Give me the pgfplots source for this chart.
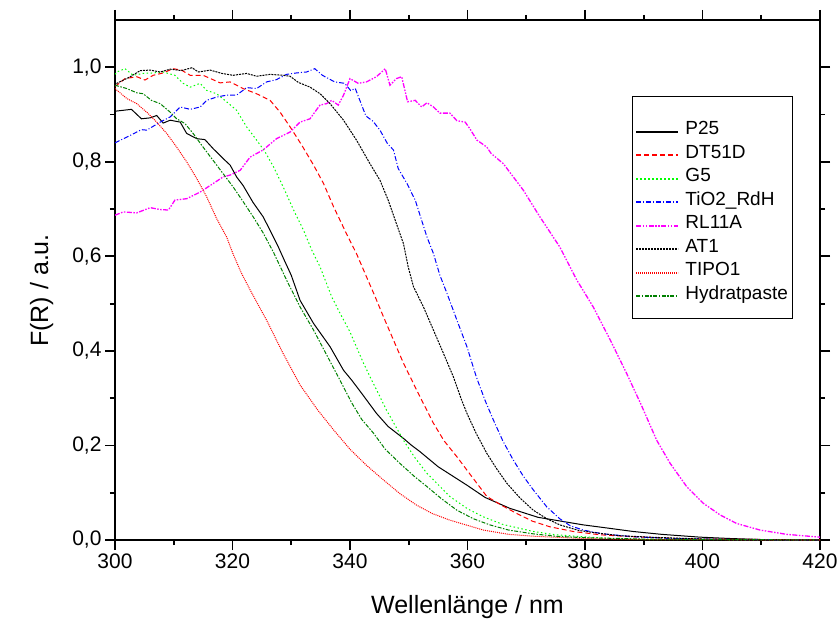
\documentclass[border=0pt]{standalone}
\usepackage{fontspec}
\setmainfont{Liberation Sans}
\usepackage{pgfplots}
\pgfplotsset{compat=1.18}
\definecolor{lime}{RGB}{0,255,0}
\definecolor{dkgreen}{RGB}{0,128,0}
\definecolor{mag}{RGB}{255,0,255}
\definecolor{rd}{RGB}{255,0,0}
\definecolor{bl}{RGB}{0,0,255}
\begin{document}
\begin{tikzpicture}
\begin{axis}[
  scale only axis, width=705bp, height=520bp,
  xmin=300, xmax=420, ymin=0, ymax=1.1,
  xtick={300,320,...,420}, ytick={0,0.2,...,1.0},
  minor x tick num=1, minor y tick num=1,
  tick align=outside,
  major tick length=10bp, minor tick length=5bp,
  axis line style={line width=1.8bp},
  every tick/.style={black, line width=1.8bp},
  /pgf/number format/assume math mode=true,
  /pgf/number format/use comma,
  yticklabel style={/pgf/number format/fixed, /pgf/number format/precision=1, /pgf/number format/fixed zerofill, font=\fontsize{21bp}{25bp}\selectfont},
  xticklabel style={/pgf/number format/1000 sep={}, font=\fontsize{21bp}{25bp}\selectfont},
  xlabel={Wellenlänge / nm}, ylabel={F(R) / a.u.},
  xlabel style={font=\fontsize{25bp}{30bp}\selectfont, at={(axis description cs:0.5,-0.1404)}, anchor=base},
  ylabel style={font=\fontsize{25bp}{30bp}\selectfont, at={(axis description cs:-0.095,0.48)}, anchor=base},
  clip=true,
  legend cell align=left,
  legend image code/.code={\draw[#1, line width=2bp] (0bp,0.3bp) -- (42bp,0.3bp);},
  legend style={at={(0.7333,0.8538)}, anchor=north west, line width=1bp,
    font=\fontsize{19bp}{22bp}\selectfont, row sep=0pt, column sep=4bp, inner xsep=3bp, inner ysep=10bp,
    nodes={inner ysep=0pt, text height=14bp, text depth=9.5bp}},
  every axis plot/.append style={line width=1bp},
]
\addlegendimage{empty legend}
\addlegendentry[text height=14bp, text depth=0bp]{}
\addplot[color=black, solid] coordinates {(300,0.907)(302.8,0.911)(304.5,0.891)(306,0.893)(307.1,0.898)(308.2,0.882)(309.4,0.888)(311.1,0.884)(312.2,0.860)(313.9,0.849)(315.3,0.847)(316.7,0.828)(318.4,0.807)(319.6,0.793)(320.7,0.768)(321.8,0.750)(323.5,0.714)(325.2,0.684)(326.4,0.655)(327.8,0.620)(328.7,0.595)(330,0.560)(331.5,0.507)(333.8,0.458)(336.6,0.409)(338.9,0.359)(340.3,0.338)(342,0.310)(344.5,0.268)(346.5,0.240)(349.1,0.215)(350.5,0.200)(351.9,0.187)(355,0.155)(359.9,0.116)(363,0.090)(367.2,0.067)(372,0.048)(379.7,0.032)(384,0.025)(388.2,0.018)(393,0.012)(399.6,0.006)(405,0.003)(410,0.001)(420,0.0)};
\addlegendentry{P25}
\addplot[color=rd, dash pattern=on 5bp off 3bp] coordinates {(300,0.960)(300.3,0.962)(301.7,0.976)(303.7,0.980)(305.1,0.973)(306.5,0.983)(308.2,0.988)(309.9,0.997)(311.3,0.994)(312.8,0.983)(315,0.983)(317.9,0.967)(319.6,0.969)(321.8,0.955)(324.1,0.944)(326.4,0.930)(328.1,0.905)(329.8,0.874)(331.8,0.835)(333.8,0.793)(335.5,0.754)(337.2,0.705)(339.4,0.648)(341.1,0.606)(342.8,0.557)(344.3,0.514)(345.7,0.472)(347.4,0.423)(349.1,0.374)(350.8,0.331)(352.2,0.296)(354.2,0.247)(356,0.210)(358.2,0.176)(360.5,0.138)(363.3,0.092)(366,0.072)(368.4,0.056)(371,0.040)(374,0.028)(378,0.018)(382.6,0.011)(388,0.007)(393.9,0.004)(400,0.002)(410,0.001)(420,0)};
\addlegendentry{DT51D}
\addplot[color=lime, dash pattern=on 1.5bp off 2.5bp] coordinates {(300,0.985)(300.3,0.990)(301.7,0.997)(303.1,0.983)(304.8,0.987)(306.5,0.988)(308.2,0.990)(310.2,0.983)(311.6,0.966)(312.8,0.958)(314.5,0.966)(315.6,0.951)(317.3,0.944)(319,0.927)(320.7,0.909)(322.4,0.874)(324.1,0.846)(325.5,0.822)(327,0.789)(328.7,0.745)(330.4,0.698)(332.1,0.655)(333.5,0.613)(334.9,0.578)(336.9,0.514)(338.5,0.475)(340,0.440)(342.3,0.374)(343.7,0.338)(345.1,0.303)(346.2,0.275)(349.1,0.211)(351,0.175)(353.1,0.141)(357,0.092)(360,0.066)(362.7,0.049)(366,0.033)(371.2,0.018)(375,0.011)(379.7,0.007)(385,0.003)(390,0.001)(420,0)};
\addlegendentry{G5}
\addplot[color=bl, dash pattern=on 5bp off 2bp on 1bp off 2bp] coordinates {(300,0.840)(302.6,0.856)(304.5,0.868)(305.4,0.867)(307.7,0.884)(309.4,0.895)(311.1,0.916)(312.8,0.911)(314.5,0.916)(315.6,0.930)(317.3,0.937)(319,0.941)(320.7,0.941)(322.4,0.957)(324.1,0.955)(325.8,0.969)(327.5,0.974)(329.2,0.985)(330.9,0.988)(332.6,0.990)(334,0.997)(335.3,0.983)(337.4,0.969)(339.1,0.966)(340.1,0.951)(340.9,0.955)(342.7,0.897)(343.9,0.886)(345.1,0.867)(346.4,0.838)(347.4,0.825)(348.2,0.786)(349.7,0.754)(351.1,0.719)(353.1,0.641)(354.2,0.606)(355.3,0.560)(356.5,0.522)(358.2,0.465)(359.9,0.409)(361.5,0.345)(363,0.295)(364.4,0.254)(366,0.210)(367.8,0.169)(369.5,0.135)(371.2,0.106)(373.5,0.070)(375.7,0.045)(377.5,0.030)(379.7,0.021)(383,0.013)(388.2,0.007)(395,0.003)(405,0.001)(420,0)};
\addlegendentry{TiO2\_RdH}
\addplot[color=mag, line width=1.3bp, dash pattern=on 5bp off 1.5bp on 1.5bp off 1.5bp on 1.5bp off 1.5bp] coordinates {(300,0.687)(301.4,0.694)(303.7,0.692)(306,0.703)(307.7,0.699)(309.1,0.698)(310.2,0.719)(312.2,0.722)(314.5,0.736)(316.7,0.754)(318.4,0.768)(319.6,0.772)(321.3,0.782)(323,0.810)(325.2,0.825)(327.5,0.849)(329.8,0.863)(331.5,0.884)(333.2,0.891)(334,0.905)(334.9,0.920)(336,0.923)(336.9,0.930)(338,0.920)(338.9,0.941)(340,0.976)(341.4,0.966)(342.8,0.969)(344.5,0.980)(346,0.997)(346.8,0.962)(347.9,0.976)(348.8,0.980)(349.8,0.927)(351.1,0.930)(352.2,0.916)(353.1,0.925)(354.2,0.916)(355.3,0.903)(357,0.903)(358.2,0.887)(359.6,0.884)(360.4,0.870)(361.6,0.846)(363.3,0.831)(364,0.818)(366.1,0.796)(369.5,0.740)(372.3,0.684)(375.7,0.620)(378.6,0.550)(381.4,0.493)(384.3,0.423)(387.1,0.352)(389.6,0.285)(392.2,0.211)(394.5,0.162)(397.3,0.113)(400.1,0.078)(403,0.053)(405.8,0.035)(409.8,0.021)(414.3,0.012)(420,0.006)};
\addlegendentry{RL11A}
\addplot[color=black, dash pattern=on 2bp off 1bp] coordinates {(300,0.960)(300.3,0.966)(302.6,0.980)(304.3,0.993)(306,0.994)(307.7,0.990)(309.4,0.996)(311.3,0.993)(313.1,0.999)(314.2,0.990)(316.2,0.994)(318.2,0.987)(320.1,0.983)(322.4,0.987)(324.1,0.981)(326.4,0.985)(328.6,0.983)(329.8,0.981)(331.2,0.968)(333.2,0.958)(334.9,0.944)(336.6,0.923)(338.9,0.888)(341.1,0.846)(343.4,0.796)(345.1,0.761)(346.5,0.719)(348.5,0.648)(349.1,0.627)(349.9,0.578)(350.8,0.536)(352.5,0.493)(354.2,0.444)(355.9,0.395)(357.6,0.345)(359,0.296)(359.9,0.268)(361.5,0.225)(363.3,0.183)(365,0.150)(366.7,0.120)(369,0.088)(371.2,0.063)(373.5,0.045)(375.7,0.032)(379,0.020)(382.6,0.014)(386,0.009)(391,0.006)(400,0.002)(420,0)};
\addlegendentry{AT1}
\addplot[color=rd, dash pattern=on 1bp off 1bp] coordinates {(300,0.955)(302,0.934)(303.7,0.923)(305.4,0.905)(307.1,0.884)(308.8,0.860)(310.5,0.831)(312.2,0.800)(313.9,0.765)(315.6,0.726)(317.3,0.680)(319,0.641)(320.1,0.605)(321.5,0.565)(323,0.529)(325.8,0.465)(328.6,0.395)(331.5,0.328)(334.5,0.275)(337.2,0.233)(340,0.192)(342.8,0.158)(345.7,0.127)(348.5,0.098)(351.3,0.074)(354,0.056)(357,0.042)(362.7,0.021)(367,0.012)(371.2,0.008)(380,0.003)(390,0.001)(420,0)};
\addlegendentry{TIPO1}
\addplot[color=dkgreen, dash pattern=on 4bp off 1.5bp on 1.5bp off 1.5bp] coordinates {(300,0.962)(302,0.955)(303.7,0.946)(304.8,0.944)(306.2,0.930)(307.7,0.923)(309.4,0.905)(310.5,0.891)(311.9,0.881)(313.3,0.860)(315,0.831)(316.7,0.803)(318.4,0.775)(320.1,0.747)(321.8,0.716)(323.5,0.684)(325.2,0.650)(327,0.608)(329.2,0.550)(331.5,0.493)(333.8,0.444)(336.6,0.378)(338,0.345)(340.3,0.290)(342,0.255)(344,0.226)(346,0.192)(348.5,0.162)(351,0.134)(353.1,0.113)(355.5,0.088)(358.2,0.063)(361,0.045)(363.8,0.032)(367,0.021)(371.2,0.013)(375,0.008)(379.7,0.005)(390,0.002)(420,0)};
\addlegendentry{Hydratpaste}
\end{axis}
\pgfresetboundingbox
\path (-115bp,-83bp) rectangle (724bp,540bp);
\end{tikzpicture}
\end{document}
